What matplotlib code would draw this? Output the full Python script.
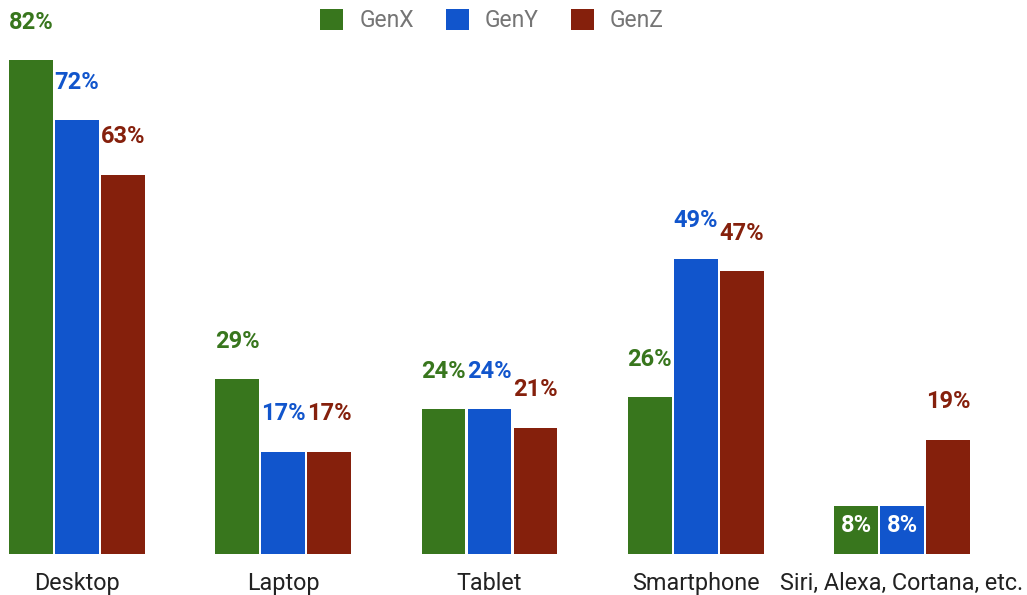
import numpy as np
import matplotlib.pyplot as plt
from matplotlib.patches import Patch

plt.rcParams['font.family'] = ['Roboto', 'DejaVu Sans']

categories = ['Desktop', 'Laptop', 'Tablet', 'Smartphone', 'Siri, Alexa, Cortana, etc.']
series = ['GenX', 'GenY', 'GenZ']
genx = [82, 29, 24, 26, 8]
geny = [72, 17, 24, 49, 8]
genz = [63, 17, 21, 47, 19]
colors = ['#38761d', '#1155cc', '#85200c']

fig = plt.figure(figsize=(10.27, 5.95), dpi=100)
ax = fig.add_axes([0, 41 / 595, 1, 542 / 595])

x = np.arange(len(categories))
width = 0.213
step = 0.223

for i, (vals, col) in enumerate(zip([genx, geny, genz], colors)):
    pos = x + (i - 1) * step
    ax.bar(pos, vals, width, color=col)
    for p, v in zip(pos, vals):
        if v < 10:
            # small bars get the label inside, in white
            ax.text(p, v * 0.6, f'{v}%', ha='center', va='center',
                    color='white', fontsize=17, fontweight='bold')
        else:
            ax.text(p, v + 6.3, f'{v}%', ha='center', va='center',
                    color=col, fontsize=17, fontweight='bold')

ax.set_xlim(-77 / 206.25, (1027 - 77) / 206.25)
ax.set_ylim(0, 90)
ax.set_xticks(x)
ax.set_xticklabels(categories, fontsize=16.8, color='#222222')
ax.tick_params(axis='x', length=0, pad=13)
ax.set_yticks([])
for s in ax.spines.values():
    s.set_visible(False)

handles = [Patch(facecolor=c, edgecolor='none') for c in colors]
fig.legend(handles, series, loc='upper center', bbox_to_anchor=(492 / 1027, 1.0),
           ncol=3, frameon=False, fontsize=16.5, labelcolor='#757575',
           handlelength=1.0, handleheight=1.0, handletextpad=0.7, columnspacing=1.4,
           borderaxespad=0.0)

fig.savefig('out.png', dpi=100)
